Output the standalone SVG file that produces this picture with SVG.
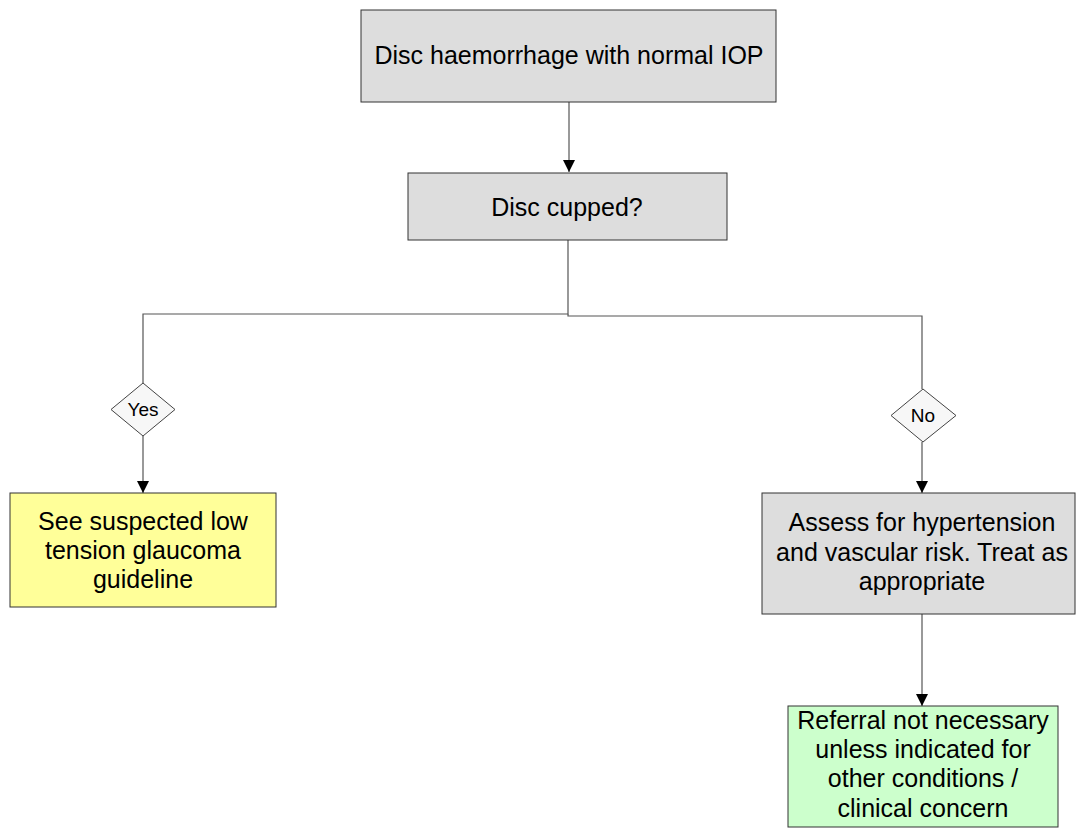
<svg xmlns="http://www.w3.org/2000/svg" width="1076" height="829" viewBox="0 0 1076 829">
<defs>
<marker id="arr" markerWidth="12" markerHeight="12" refX="10" refY="5" orient="auto" markerUnits="userSpaceOnUse" viewBox="0 0 10 10">
<path d="M0,0 L10,5 L0,10 Z" fill="#000"/>
</marker>
<style>
.box{stroke:#333;stroke-width:1}
.gray{fill:#dddddd}
.yellow{fill:#ffff99}
.green{fill:#ccffcc}
.dia{fill:#f7f7f7;stroke:#444;stroke-width:1}
.t{font-family:"Liberation Sans",Arial,sans-serif;font-size:25px;fill:#000;text-anchor:middle}
.s{font-family:"Liberation Sans",Arial,sans-serif;font-size:19px;fill:#000;text-anchor:middle}
.c{fill:none;stroke:#555;stroke-width:1.2}
</style>
</defs>
<rect width="1076" height="829" fill="#fff"/>
<g id="connectors">
<path class="c" d="M569,102 V172" marker-end="url(#arr)"/>
<path class="c" d="M568,240 V314 H143 V383"/>
<path class="c" d="M568,314 V316 H922 V389"/>
<path class="c" d="M143,436 V493" marker-end="url(#arr)"/>
<path class="c" d="M922,442 V493" marker-end="url(#arr)"/>
<path class="c" d="M922,614 V706" marker-end="url(#arr)"/>
</g>
<g id="n1">
<rect class="box gray" x="361" y="10" width="415" height="92"/>
<text class="t" x="569" y="64">Disc haemorrhage with normal IOP</text>
</g>
<g id="n2">
<rect class="box gray" x="408" y="173" width="319" height="67"/>
<text class="t" x="567" y="216">Disc cupped?</text>
</g>
<g id="yes">
<path class="dia" d="M143,383 L175,409.5 L143,436 L111,409.5 Z"/>
<text class="s" x="143" y="416">Yes</text>
</g>
<g id="no">
<path class="dia" d="M923,389 L956,415.5 L923,442 L891,415.5 Z"/>
<text class="s" x="923" y="422">No</text>
</g>
<g id="n3">
<rect class="box yellow" x="10" y="493" width="266" height="114"/>
<text class="t" x="143" y="530">See suspected low</text>
<text class="t" x="143" y="559">tension glaucoma</text>
<text class="t" x="143" y="588">guideline</text>
</g>
<g id="n4">
<rect class="box gray" x="762" y="493" width="313" height="121"/>
<text class="t" x="922" y="531">Assess for hypertension</text>
<text class="t" x="922" y="561">and vascular risk. Treat as</text>
<text class="t" x="922" y="590">appropriate</text>
</g>
<g id="n5">
<rect class="box green" x="788" y="706" width="270" height="121"/>
<text class="t" x="923" y="729">Referral not necessary</text>
<text class="t" x="923" y="758">unless indicated for</text>
<text class="t" x="923" y="787">other conditions /</text>
<text class="t" x="923" y="817">clinical concern</text>
</g>
</svg>
